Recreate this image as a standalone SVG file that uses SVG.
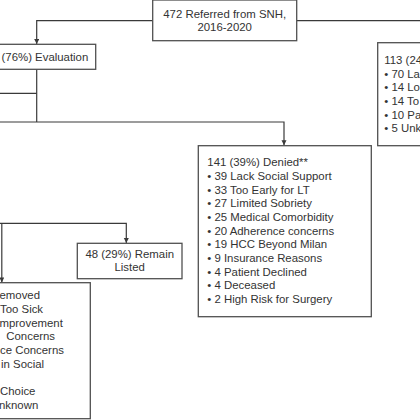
<svg xmlns="http://www.w3.org/2000/svg" width="420" height="420" viewBox="0 0 420 420">
<style>
  .box { fill: #ffffff; stroke: #505050; stroke-width: 1.3; }
  .ln { fill: none; stroke: #3a3a3a; stroke-width: 1.2; }
  text { font-family: "Liberation Sans", Arial, sans-serif; font-size: 11.4px; fill: #333333; }
  .c { text-anchor: middle; }
</style>
<defs>
  <marker id="arr" markerUnits="userSpaceOnUse" markerWidth="6" markerHeight="6" refX="5" refY="2.5" orient="auto">
    <path d="M0,0 L5,2.5 L0,5 z" fill="#3a3a3a"/>
  </marker>
</defs>
<rect width="420" height="420" fill="#ffffff"/>

<g id="connectors">
  <path class="ln" d="M152.7,20.7 H36.7 V44" marker-end="url(#arr)"/>
  <path class="ln" d="M296.7,20.7 H421"/>
  <path class="ln" d="M36.7,69.3 V122"/>
  <path class="ln" d="M-1,93.3 H36.7"/>
  <path class="ln" d="M-1,122 H284 V145.3" marker-end="url(#arr)"/>
  <path class="ln" d="M-1,223.3 H126.3 V243" marker-end="url(#arr)"/>
  <path class="ln" d="M1.8,223.3 V282.4" marker-end="url(#arr)"/>
</g>

<g id="referred">
  <rect class="box" x="152.7" y="0" width="144" height="40.7"/>
  <text class="c" x="224.7" y="18.2">472 Referred from SNH,</text>
  <text class="c" x="224.7" y="31.4">2016-2020</text>
</g>

<g id="evaluation">
  <rect class="box" x="-5" y="44.3" width="100.7" height="25"/>
  <text x="88.3" y="60.5" text-anchor="end">(76%) Evaluation</text>
</g>

<g id="excluded">
  <rect class="box" x="377.7" y="42.7" width="50" height="103"/>
  <text x="384.3" y="64.1">113 (24</text>
  <text x="384.3" y="77.7">• 70 La</text>
  <text x="384.3" y="91.3">• 14 Lo</text>
  <text x="384.3" y="104.9">• 14 To</text>
  <text x="384.3" y="118.5">• 10 Pa</text>
  <text x="384.3" y="132.1">• 5 Unk</text>
</g>

<g id="denied">
  <rect class="box" x="198.3" y="145.7" width="173" height="171"/>
  <text x="207.3" y="166.4">141 (39%) Denied**</text>
  <text x="207.3" y="180.05">• 39 Lack Social Support</text>
  <text x="207.3" y="193.7">• 33 Too Early for LT</text>
  <text x="207.3" y="207.35">• 27 Limited Sobriety</text>
  <text x="207.3" y="221">• 25 Medical Comorbidity</text>
  <text x="207.3" y="234.65">• 20 Adherence concerns</text>
  <text x="207.3" y="248.3">• 19 HCC Beyond Milan</text>
  <text x="207.3" y="261.95">• 9 Insurance Reasons</text>
  <text x="207.3" y="275.6">• 4 Patient Declined</text>
  <text x="207.3" y="289.25">• 4 Deceased</text>
  <text x="207.3" y="302.9">• 2 High Risk for Surgery</text>
</g>

<g id="remain">
  <rect class="box" x="77.3" y="243.3" width="104.7" height="35.4"/>
  <text class="c" x="129.7" y="257.6">48 (29%) Remain</text>
  <text class="c" x="129.7" y="271">Listed</text>
</g>

<g id="removed">
  <rect class="box" x="-5" y="282.7" width="95.3" height="136"/>
  <text x="-0.5" y="299.3">emoved</text>
  <text x="0" y="313">Too Sick</text>
  <text x="-0.5" y="326.7">mprovement</text>
  <text x="6.3" y="340.3">Concerns</text>
  <text x="0" y="354">ce Concerns</text>
  <text x="1" y="367.7">in Social</text>
  <text x="0" y="395">Choice</text>
  <text x="-1" y="408.7">nknown</text>
</g>
</svg>
